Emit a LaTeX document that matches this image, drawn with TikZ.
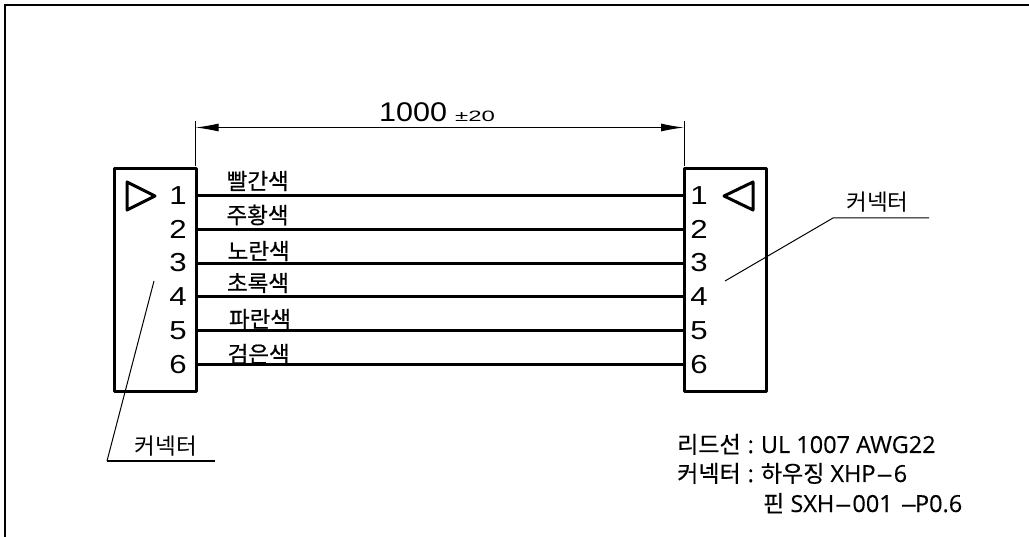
\documentclass[tikz,border=0pt]{standalone}
\usepackage{fontspec}
\setmainfont{Liberation Sans}
\newfontfamily\korfont[FakeBold=0.5]{Noto Sans CJK KR}
\newfontfamily\korthin{Noto Sans CJK KR}
\newfontfamily\specfont[FakeBold=0.3]{Open Sans}
\newfontfamily\widefont[FakeStretch=1.2]{Liberation Sans}
\newfontfamily\dimfont[FakeStretch=1.13]{Liberation Sans}
\newfontfamily\widerfont[FakeStretch=1.6]{Liberation Sans}
\usetikzlibrary{arrows.meta}
\newcommand{\krspec}[1]{{\korfont\fontsize{23}{23}\selectfont #1}}
\newcommand{\longdash}{\scalebox{2.4}[1]{-}}
\tikzset{
	conbox/.style={draw,line width=3pt,line join=round},
	wire/.style={line width=3pt},
	thinline/.style={line width=1pt},
	pinnum/.style={inner sep=0pt,font=\widefont\fontsize{26}{26}\selectfont},
	colorname/.style={inner sep=0pt,font=\korfont\fontsize{22.5}{22.5}\selectfont},
	leadtext/.style={inner sep=0pt,font=\korthin\fontsize{22.5}{22.5}\selectfont},
	spectext/.style={inner sep=0pt,anchor=base west,font=\specfont\fontsize{23.5}{23.5}\selectfont}
}
\begin{document}
\begin{tikzpicture}[x=1pt,y=-1pt]
	\useasboundingbox (0,0) rectangle (1029,537);
	\draw[line width=2pt] (4.5,537) -- (4.5,5) -- (1029,5);

	% connectors
	\draw[conbox] (114,168.5) rectangle (196,392);
	\draw[conbox] (684,168.5) rectangle (766,392);
	\draw[conbox] (127,182) -- (155,196) -- (127,210) -- cycle;
	\draw[conbox] (753,182) -- (724,196) -- (753,210) -- cycle;

	% pins and wires
	\foreach \n/\y/\t/\lx/\ly in {1/196/빨간색/257.7/181,2/230/주황색/257.5/215,3/263.5/노란색/258.7/251,4/297/초록색/258/283,5/331/파란색/260/319,6/365/검은색/258.7/354}{
		\coordinate (wl\n) at (196,\y);
		\coordinate (wr\n) at (684,\y);
		\draw[wire] (wl\n) -- (wr\n);
		\node[pinnum] (pl\n) at (178,\y-0.5) {\n};
		\node[pinnum] (pr\n) at (699,\y-0.5) {\n};
		\node[colorname] (c\n) at (\lx,\ly) {\t};
	}

	% dimension
	\coordinate (dl) at (195.5,127.5);
	\coordinate (dr) at (684,127.5);
	\draw[thinline] (195.5,121) -- (195.5,166);
	\draw[thinline] (684,121) -- (684,166);
	\draw[thinline,{Latex[length=23pt,width=8pt]}-{Latex[length=23pt,width=8pt]}] (dl) -- (dr);
	\node[inner sep=0pt,anchor=base west] (dimlabel) at (379,121.5) {{\dimfont\fontsize{27}{27}\selectfont 1000}\hspace{8pt}{\widerfont\fontsize{15}{15}\selectfont ±20}};

	% leaders
	\coordinate (la) at (154,281);
	\coordinate (lb) at (107,461);
	\coordinate (lc) at (215,461);
	\draw[thinline] (la) -- (lb);
	\draw[line width=1.5pt] (lb) -- (lc);
	\node[leadtext] (leadl) at (166,446) {커넥터};
	\coordinate (ra) at (725,281);
	\coordinate (rb) at (833,218);
	\coordinate (rc) at (929,218);
	\draw[thinline] (ra) -- (rb) -- (rc);
	\node[leadtext] (leadr) at (877.5,202) {커넥터};

	% spec text
	\node[spectext] (spa) at (677,453) {\krspec{리드선}\hspace{7pt}:\hspace{7pt}UL 1007 AWG22};
	\node[spectext] (spb) at (677,482) {\krspec{커넥터}\hspace{7pt}:\hspace{7pt}\krspec{하우징} XHP\longdash 6};
	\node[spectext] (spc) at (763,512) {\krspec{핀} SXH\longdash 001\hspace{1pt} \longdash\hspace{-3pt}P0.6};
\end{tikzpicture}
\end{document}
